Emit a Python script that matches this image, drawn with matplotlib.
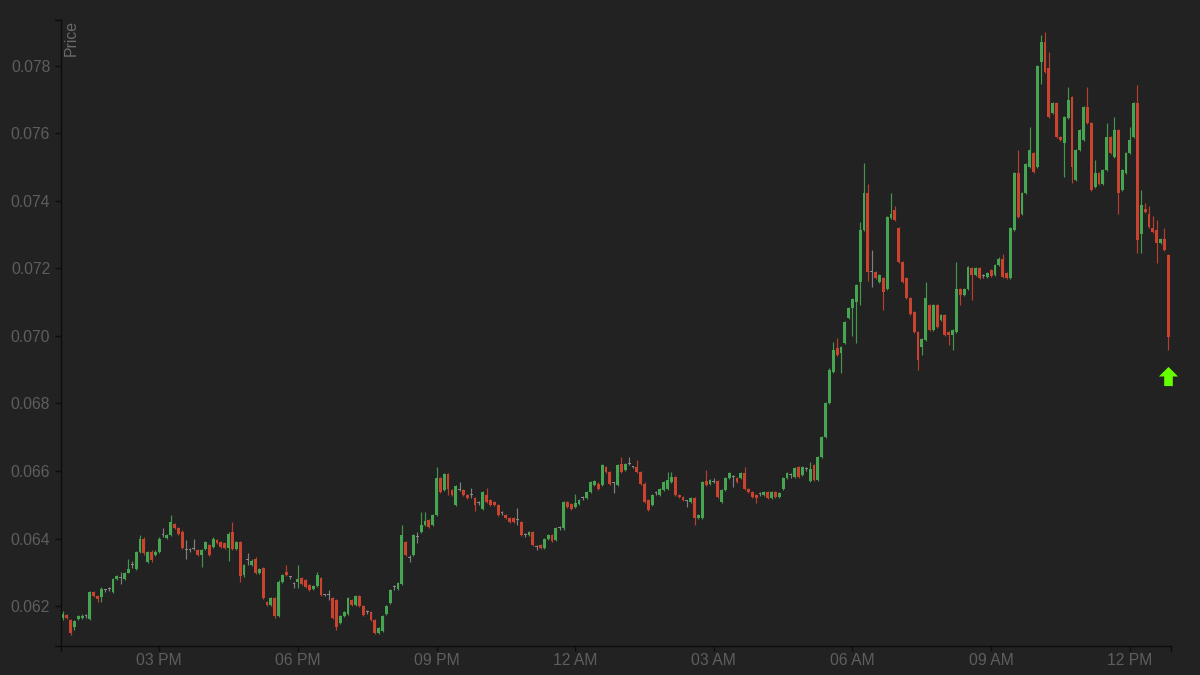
import matplotlib
matplotlib.use("Agg")
import matplotlib.pyplot as plt
import matplotlib.dates as mdates
from matplotlib.ticker import FormatStrFormatter
from matplotlib.path import Path
from matplotlib.lines import Line2D
import numpy as np
import pandas as pd

# ---------------- data ----------------
start_time = "2024-03-14 12:55"
interval = "5min"

opens = [
    0.06164, 0.06173, 0.06160, 0.06139, 0.06162, 0.06164, 0.06170, 0.06162, 0.06241, 0.06230,
    0.06228, 0.06247, 0.06250, 0.06242, 0.06279, 0.06282, 0.06281, 0.06299, 0.06321, 0.06310,
    0.06361, 0.06400, 0.06331, 0.06361, 0.06351, 0.06361, 0.06412, 0.06402, 0.06410, 0.06442,
    0.06430, 0.06420, 0.06367, 0.06366, 0.06370, 0.06367, 0.06351, 0.06368, 0.06381, 0.06376,
    0.06395, 0.06390, 0.06387, 0.06373, 0.06420, 0.06370, 0.06390, 0.06292, 0.06336, 0.06321,
    0.06341, 0.06297, 0.06312, 0.06213, 0.06203, 0.06223, 0.06170, 0.06272, 0.06302, 0.06285,
    0.06265, 0.06270, 0.06282, 0.06277, 0.06262, 0.06250, 0.06260, 0.06282, 0.06233, 0.06233,
    0.06223, 0.06218, 0.06151, 0.06170, 0.06178, 0.06218, 0.06203, 0.06230, 0.06200, 0.06182,
    0.06183, 0.06159, 0.06121, 0.06127, 0.06178, 0.06208, 0.06256, 0.06252, 0.06267, 0.06390,
    0.06342, 0.06351, 0.06404, 0.06420, 0.06440, 0.06455, 0.06440, 0.06469, 0.06578, 0.06543,
    0.06591, 0.06543, 0.06499, 0.06543, 0.06543, 0.06529, 0.06529, 0.06519, 0.06504, 0.06489,
    0.06529, 0.06514, 0.06509, 0.06499, 0.06475, 0.06469, 0.06460, 0.06460, 0.06455, 0.06450,
    0.06410, 0.06410, 0.06420, 0.06375, 0.06381, 0.06371, 0.06400, 0.06410, 0.06395, 0.06430,
    0.06430, 0.06509, 0.06502, 0.06493, 0.06502, 0.06519, 0.06519, 0.06538, 0.06560, 0.06563,
    0.06558, 0.06612, 0.06598, 0.06564, 0.06558, 0.06622, 0.06603, 0.06620, 0.06612, 0.06612,
    0.06598, 0.06563, 0.06514, 0.06499, 0.06534, 0.06529, 0.06543, 0.06548, 0.06568, 0.06583,
    0.06529, 0.06522, 0.06512, 0.06509, 0.06519, 0.06460, 0.06460, 0.06570, 0.06563, 0.06568,
    0.06570, 0.06509, 0.06543, 0.06580, 0.06583, 0.06578, 0.06578, 0.06593, 0.06548, 0.06538,
    0.06529, 0.06532, 0.06529, 0.06538, 0.06519, 0.06538, 0.06524, 0.06548, 0.06578, 0.06588,
    0.06583, 0.06612, 0.06588, 0.06605, 0.06570, 0.06617, 0.06573, 0.06641, 0.06700, 0.06801,
    0.06893, 0.06964, 0.06949, 0.06978, 0.07052, 0.07082, 0.07101, 0.07160, 0.07313, 0.07422,
    0.07190, 0.07190, 0.07160, 0.07170, 0.07140, 0.07348, 0.07372, 0.07318, 0.07219, 0.07170,
    0.07111, 0.07071, 0.07012, 0.06968, 0.06987, 0.07091, 0.07017, 0.07091, 0.07047, 0.07061,
    0.07012, 0.07002, 0.07012, 0.07140, 0.07121, 0.07140, 0.07200, 0.07180, 0.07200, 0.07177,
    0.07175, 0.07195, 0.07180, 0.07209, 0.07229, 0.07185, 0.07170, 0.07313, 0.07481, 0.07362,
    0.07422, 0.07500, 0.07540, 0.07500, 0.07812, 0.07870, 0.07792, 0.07659, 0.07689, 0.07590,
    0.07572, 0.07644, 0.07708, 0.07461, 0.07550, 0.07580, 0.07678, 0.07629, 0.07441, 0.07481,
    0.07451, 0.07491, 0.07590, 0.07530, 0.07609, 0.07431, 0.07481, 0.07540, 0.07590, 0.07689,
    0.07303, 0.07377, 0.07362, 0.07318, 0.07313, 0.07274, 0.07288, 0.07239,
]

closes = [
    0.06178, 0.06164, 0.06120, 0.06156, 0.06170, 0.06172, 0.06170, 0.06241, 0.06230, 0.06220,
    0.06250, 0.06247, 0.06250, 0.06280, 0.06289, 0.06282, 0.06299, 0.06310, 0.06321, 0.06361,
    0.06400, 0.06356, 0.06361, 0.06336, 0.06361, 0.06400, 0.06412, 0.06412, 0.06450, 0.06432,
    0.06415, 0.06371, 0.06367, 0.06366, 0.06370, 0.06351, 0.06367, 0.06389, 0.06351, 0.06400,
    0.06386, 0.06376, 0.06373, 0.06415, 0.06370, 0.06390, 0.06289, 0.06321, 0.06336, 0.06333,
    0.06297, 0.06309, 0.06223, 0.06203, 0.06223, 0.06170, 0.06272, 0.06292, 0.06292, 0.06285,
    0.06265, 0.06279, 0.06267, 0.06257, 0.06249, 0.06260, 0.06292, 0.06233, 0.06233, 0.06233,
    0.06164, 0.06137, 0.06170, 0.06183, 0.06223, 0.06203, 0.06230, 0.06200, 0.06173, 0.06182,
    0.06159, 0.06121, 0.06134, 0.06170, 0.06200, 0.06249, 0.06256, 0.06269, 0.06410, 0.06351,
    0.06342, 0.06410, 0.06404, 0.06440, 0.06452, 0.06435, 0.06469, 0.06578, 0.06538, 0.06591,
    0.06548, 0.06529, 0.06555, 0.06543, 0.06529, 0.06519, 0.06529, 0.06499, 0.06504, 0.06538,
    0.06509, 0.06499, 0.06499, 0.06469, 0.06475, 0.06460, 0.06450, 0.06450, 0.06455, 0.06410,
    0.06410, 0.06420, 0.06381, 0.06375, 0.06371, 0.06400, 0.06410, 0.06393, 0.06430, 0.06430,
    0.06509, 0.06493, 0.06489, 0.06504, 0.06514, 0.06519, 0.06538, 0.06568, 0.06570, 0.06548,
    0.06617, 0.06598, 0.06563, 0.06564, 0.06617, 0.06598, 0.06622, 0.06620, 0.06612, 0.06598,
    0.06563, 0.06509, 0.06484, 0.06529, 0.06534, 0.06548, 0.06568, 0.06573, 0.06583, 0.06529,
    0.06524, 0.06514, 0.06512, 0.06519, 0.06460, 0.06469, 0.06568, 0.06560, 0.06573, 0.06568,
    0.06524, 0.06543, 0.06580, 0.06593, 0.06583, 0.06568, 0.06593, 0.06548, 0.06538, 0.06524,
    0.06519, 0.06532, 0.06538, 0.06519, 0.06538, 0.06524, 0.06534, 0.06578, 0.06593, 0.06588,
    0.06608, 0.06583, 0.06612, 0.06605, 0.06605, 0.06573, 0.06641, 0.06700, 0.06801, 0.06899,
    0.06958, 0.06943, 0.06967, 0.07042, 0.07082, 0.07108, 0.07150, 0.07313, 0.07422, 0.07190,
    0.07190, 0.07170, 0.07180, 0.07130, 0.07352, 0.07360, 0.07343, 0.07219, 0.07160, 0.07111,
    0.07066, 0.07012, 0.06928, 0.06992, 0.07111, 0.07017, 0.07091, 0.07027, 0.07061, 0.07002,
    0.07002, 0.07017, 0.07140, 0.07121, 0.07140, 0.07204, 0.07180, 0.07200, 0.07170, 0.07177,
    0.07185, 0.07177, 0.07209, 0.07229, 0.07175, 0.07170, 0.07318, 0.07481, 0.07352, 0.07422,
    0.07510, 0.07550, 0.07486, 0.07800, 0.07870, 0.07782, 0.07649, 0.07689, 0.07590, 0.07580,
    0.07649, 0.07698, 0.07500, 0.07550, 0.07609, 0.07678, 0.07629, 0.07431, 0.07481, 0.07451,
    0.07491, 0.07590, 0.07540, 0.07609, 0.07422, 0.07491, 0.07540, 0.07580, 0.07689, 0.07285,
    0.07387, 0.07367, 0.07323, 0.07308, 0.07274, 0.07288, 0.07254, 0.06997,
]

highs = [
    0.06185, 0.06176, 0.06162, 0.06158, 0.06173, 0.06178, 0.06176, 0.06244, 0.06244, 0.06232,
    0.06256, 0.06252, 0.06258, 0.06283, 0.06292, 0.06302, 0.06302, 0.06339, 0.06333, 0.06364,
    0.06412, 0.06404, 0.06364, 0.06366, 0.06365, 0.06404, 0.06430, 0.06415, 0.06471, 0.06446,
    0.06433, 0.06424, 0.06397, 0.06372, 0.06400, 0.06370, 0.06370, 0.06392, 0.06384, 0.06404,
    0.06399, 0.06394, 0.06390, 0.06419, 0.06450, 0.06393, 0.06394, 0.06325, 0.06357, 0.06340,
    0.06345, 0.06313, 0.06315, 0.06216, 0.06226, 0.06226, 0.06276, 0.06295, 0.06321, 0.06290,
    0.06272, 0.06321, 0.06285, 0.06280, 0.06265, 0.06263, 0.06300, 0.06285, 0.06236, 0.06249,
    0.06226, 0.06221, 0.06173, 0.06186, 0.06226, 0.06221, 0.06233, 0.06233, 0.06203, 0.06188,
    0.06186, 0.06162, 0.06137, 0.06173, 0.06203, 0.06252, 0.06262, 0.06272, 0.06440, 0.06393,
    0.06351, 0.06413, 0.06420, 0.06479, 0.06479, 0.06458, 0.06472, 0.06612, 0.06581, 0.06594,
    0.06594, 0.06546, 0.06558, 0.06568, 0.06546, 0.06532, 0.06549, 0.06522, 0.06510, 0.06541,
    0.06549, 0.06517, 0.06512, 0.06502, 0.06481, 0.06472, 0.06463, 0.06463, 0.06490, 0.06453,
    0.06416, 0.06423, 0.06423, 0.06381, 0.06384, 0.06403, 0.06413, 0.06413, 0.06433, 0.06436,
    0.06512, 0.06512, 0.06505, 0.06531, 0.06517, 0.06525, 0.06541, 0.06571, 0.06573, 0.06566,
    0.06620, 0.06615, 0.06601, 0.06567, 0.06620, 0.06642, 0.06625, 0.06642, 0.06615, 0.06632,
    0.06601, 0.06566, 0.06517, 0.06532, 0.06540, 0.06551, 0.06571, 0.06598, 0.06598, 0.06586,
    0.06532, 0.06525, 0.06515, 0.06522, 0.06522, 0.06472, 0.06571, 0.06603, 0.06576, 0.06580,
    0.06573, 0.06546, 0.06583, 0.06596, 0.06589, 0.06581, 0.06596, 0.06612, 0.06551, 0.06541,
    0.06532, 0.06538, 0.06541, 0.06541, 0.06541, 0.06541, 0.06537, 0.06581, 0.06596, 0.06593,
    0.06611, 0.06615, 0.06615, 0.06611, 0.06627, 0.06620, 0.06644, 0.06703, 0.06805, 0.06905,
    0.06982, 0.06993, 0.06970, 0.07045, 0.07085, 0.07112, 0.07153, 0.07338, 0.07511, 0.07449,
    0.07254, 0.07193, 0.07183, 0.07173, 0.07355, 0.07422, 0.07384, 0.07321, 0.07222, 0.07173,
    0.07114, 0.07074, 0.07015, 0.06995, 0.07160, 0.07094, 0.07094, 0.07094, 0.07064, 0.07064,
    0.07015, 0.07020, 0.07219, 0.07143, 0.07143, 0.07207, 0.07203, 0.07203, 0.07203, 0.07183,
    0.07188, 0.07198, 0.07212, 0.07232, 0.07242, 0.07188, 0.07321, 0.07484, 0.07550, 0.07425,
    0.07513, 0.07619, 0.07543, 0.07803, 0.07890, 0.07900, 0.07841, 0.07692, 0.07692, 0.07593,
    0.07652, 0.07738, 0.07711, 0.07553, 0.07612, 0.07681, 0.07738, 0.07632, 0.07520, 0.07484,
    0.07494, 0.07629, 0.07593, 0.07649, 0.07612, 0.07494, 0.07543, 0.07619, 0.07692, 0.07742,
    0.07431, 0.07393, 0.07384, 0.07354, 0.07342, 0.07291, 0.07319, 0.07242,
]

lows = [
    0.06159, 0.06161, 0.06114, 0.06129, 0.06159, 0.06162, 0.06166, 0.06160, 0.06228, 0.06213,
    0.06213, 0.06243, 0.06244, 0.06240, 0.06277, 0.06267, 0.06278, 0.06297, 0.06312, 0.06307,
    0.06358, 0.06352, 0.06328, 0.06332, 0.06348, 0.06358, 0.06405, 0.06399, 0.06407, 0.06429,
    0.06412, 0.06368, 0.06341, 0.06360, 0.06365, 0.06348, 0.06316, 0.06365, 0.06348, 0.06373,
    0.06383, 0.06373, 0.06370, 0.06333, 0.06367, 0.06367, 0.06272, 0.06285, 0.06321, 0.06318,
    0.06294, 0.06294, 0.06220, 0.06200, 0.06200, 0.06164, 0.06167, 0.06269, 0.06289, 0.06280,
    0.06253, 0.06253, 0.06264, 0.06254, 0.06246, 0.06247, 0.06257, 0.06230, 0.06230, 0.06218,
    0.06161, 0.06129, 0.06148, 0.06167, 0.06175, 0.06200, 0.06200, 0.06197, 0.06170, 0.06176,
    0.06156, 0.06118, 0.06118, 0.06124, 0.06175, 0.06205, 0.06247, 0.06249, 0.06264, 0.06348,
    0.06331, 0.06348, 0.06386, 0.06417, 0.06437, 0.06432, 0.06437, 0.06466, 0.06535, 0.06540,
    0.06529, 0.06526, 0.06496, 0.06540, 0.06526, 0.06516, 0.06519, 0.06481, 0.06498, 0.06486,
    0.06506, 0.06496, 0.06496, 0.06466, 0.06469, 0.06457, 0.06447, 0.06447, 0.06440, 0.06407,
    0.06404, 0.06407, 0.06378, 0.06366, 0.06368, 0.06368, 0.06397, 0.06390, 0.06392, 0.06424,
    0.06425, 0.06490, 0.06486, 0.06490, 0.06499, 0.06513, 0.06516, 0.06535, 0.06557, 0.06545,
    0.06555, 0.06595, 0.06560, 0.06534, 0.06555, 0.06595, 0.06600, 0.06617, 0.06609, 0.06595,
    0.06560, 0.06506, 0.06481, 0.06496, 0.06528, 0.06526, 0.06540, 0.06545, 0.06565, 0.06526,
    0.06521, 0.06511, 0.06494, 0.06506, 0.06440, 0.06457, 0.06457, 0.06557, 0.06560, 0.06565,
    0.06521, 0.06506, 0.06540, 0.06577, 0.06553, 0.06565, 0.06575, 0.06545, 0.06535, 0.06521,
    0.06504, 0.06526, 0.06526, 0.06516, 0.06516, 0.06521, 0.06521, 0.06545, 0.06575, 0.06578,
    0.06580, 0.06580, 0.06585, 0.06599, 0.06567, 0.06570, 0.06570, 0.06638, 0.06697, 0.06798,
    0.06890, 0.06940, 0.06890, 0.06975, 0.07049, 0.07000, 0.06978, 0.07091, 0.07310, 0.07162,
    0.07145, 0.07167, 0.07157, 0.07076, 0.07137, 0.07345, 0.07340, 0.07216, 0.07157, 0.07108,
    0.07063, 0.07009, 0.06899, 0.06943, 0.06984, 0.07014, 0.07014, 0.07024, 0.07044, 0.06999,
    0.06973, 0.06958, 0.07009, 0.07091, 0.07118, 0.07137, 0.07106, 0.07177, 0.07167, 0.07171,
    0.07172, 0.07174, 0.07177, 0.07206, 0.07172, 0.07167, 0.07167, 0.07310, 0.07349, 0.07359,
    0.07419, 0.07497, 0.07483, 0.07497, 0.07747, 0.07779, 0.07646, 0.07656, 0.07587, 0.07577,
    0.07471, 0.07641, 0.07452, 0.07458, 0.07547, 0.07577, 0.07626, 0.07428, 0.07438, 0.07448,
    0.07448, 0.07488, 0.07537, 0.07527, 0.07362, 0.07428, 0.07478, 0.07537, 0.07587, 0.07244,
    0.07245, 0.07364, 0.07320, 0.07305, 0.07215, 0.07271, 0.07251, 0.06958,
]

# trade signal markers
signal_times = ["2024-03-15 12:50"]
signal_prices = [0.06881]

y_ticks = [0.062, 0.064, 0.066, 0.068, 0.070, 0.072, 0.074, 0.076, 0.078]
y_range = (0.06082, 0.07935)

# ---------------- style ----------------
BG = "#222222"
UP = "#46a550"
DOWN = "#c9432f"
FLAT = "#8a8a8a"
TEXT = "#5e5e5e"
AXIS = "#0d0d0d"
SIGNAL = "#66ff00"

plt.rcParams["font.family"] = ["Liberation Sans", "DejaVu Sans"]

fig = plt.figure(figsize=(12, 6.75), dpi=100, facecolor=BG)
ax = fig.add_axes([61 / 1200, 1 - 646 / 675, 1110 / 1200, 626 / 675], facecolor=BG)

o = np.array(opens)
c = np.array(closes)
h = np.array(highs)
l = np.array(lows)
times = pd.date_range(start_time, periods=len(c), freq=interval)
x = mdates.date2num(times.to_pydatetime())

colors = np.where(c > o, UP, np.where(c < o, DOWN, FLAT))
step = x[1] - x[0]
body_w = step * 0.74
min_h = 0.00003
bottom = np.minimum(o, c)
height = np.maximum(np.abs(c - o), min_h)

ax.vlines(x, l, h, colors=colors, linewidth=0.85, alpha=0.9, zorder=2)
ax.bar(x, height, bottom=bottom, width=body_w, color=colors, linewidth=0, zorder=3)

# signal arrow marker
arrow = Path([(0, 1), (1, 0), (0.45, 0), (0.45, -1), (-0.45, -1), (-0.45, 0), (-1, 0), (0, 1)],
             [Path.MOVETO] + [Path.LINETO] * 6 + [Path.CLOSEPOLY])
sx = mdates.date2num(pd.to_datetime(signal_times).to_pydatetime())
ax.scatter(sx, signal_prices, marker=arrow, s=190, color=SIGNAL, linewidths=0,
           zorder=5, clip_on=False)

ax.set_xlim(x[0] - step * 0.5, x[-1] + step * 0.7)
ax.set_ylim(*y_range)

ax.set_yticks(y_ticks)
ax.yaxis.set_major_formatter(FormatStrFormatter("%.3f"))
ax.xaxis.set_major_locator(mdates.HourLocator(byhour=range(0, 24, 3)))
ax.xaxis.set_major_formatter(mdates.DateFormatter("%I %p"))

for s in ["top", "right"]:
    ax.spines[s].set_visible(False)
for s in ["left", "bottom"]:
    ax.spines[s].set_color(AXIS)
    ax.spines[s].set_linewidth(1.0)

ax.tick_params(axis="y", direction="out", length=4.3, width=1.0, color=AXIS,
               labelcolor=TEXT, labelsize=11.3, pad=3.5)
ax.tick_params(axis="x", direction="out", length=3.6, width=1.0, color=AXIS,
               labelcolor=TEXT, labelsize=11.3, pad=1.5)

# outer ticks at the ends of the axis lines
for xs, ys in [([0, 0], [0, -0.008]), ([1, 1], [0, -0.008]),
               ([0, -0.0054], [1, 1]), ([0, -0.0054], [0, 0])]:
    ax.add_line(Line2D(xs, ys, transform=ax.transAxes, color=AXIS, linewidth=1.0, clip_on=False))

ax.text(0.0025, 1.0, "Price", rotation=90, ha="left", va="top", transform=ax.transAxes,
        color="#6a6a6a", fontsize=11.3)

fig.savefig("out.png", dpi=100, facecolor=BG)
